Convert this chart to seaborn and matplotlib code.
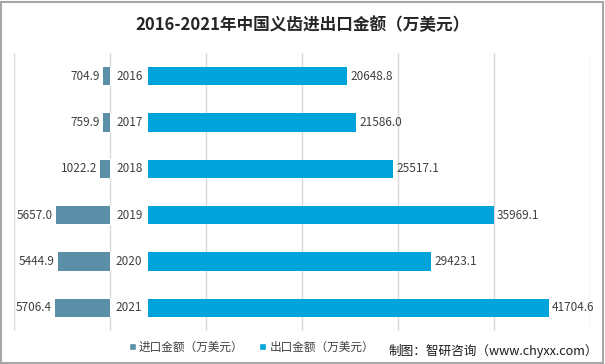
import matplotlib
matplotlib.use('Agg')
import matplotlib.pyplot as plt
import seaborn as sns
import pandas as pd
from matplotlib.patches import Rectangle, Patch

years = ['2016', '2017', '2018', '2019', '2020', '2021']
imports = [704.9, 759.9, 1022.2, 5657.0, 5444.9, 5706.4]
exports = [20648.8, 21586.0, 25517.1, 35969.1, 29423.1, 41704.6]
spacer = 4000  # invisible gap holding the year labels

title = '2016-2021年中国义齿进出口金额（万美元）'
import_label = '进口金额（万美元）'
export_label = '出口金额（万美元）'
source = '制图：智研咨询（www.chyxx.com）'

imp_color = '#5b8fa8'
exp_color = '#00a3da'
txt_color = '#404040'

df = pd.DataFrame({'year': years, 'imp': imports, 'exp': exports})
df['imp_neg'] = -df['imp']
df['spacer'] = spacer
df['total'] = df['exp'] + spacer

sns.set_theme(style='white')
plt.rcParams['font.family'] = ['Noto Sans CJK SC', 'DejaVu Sans']

fig = plt.figure(figsize=(6.05, 3.64), dpi=100)
fig.patch.set_facecolor('white')
ax = fig.add_axes([14 / 605, 33 / 364, 576 / 605, 278 / 364])
ax.set_facecolor('white')

sns.barplot(data=df, x='imp_neg', y='year', color=imp_color, saturation=1,
            width=0.39, ax=ax, linewidth=0)
sns.barplot(data=df, x='total', y='year', color=exp_color, saturation=1,
            width=0.39, ax=ax, linewidth=0)
sns.barplot(data=df, x='spacer', y='year', color='white', saturation=1,
            width=0.41, ax=ax, linewidth=0)

ax.set_xlim(-10000, 50000)
ax.set_xticks(range(-10000, 50001, 10000))
ax.set_xticklabels([])
ax.set_yticks([])
ax.set_ylim(5.5, -0.5)
ax.xaxis.grid(True, color='#d9d9d9', lw=1)
ax.yaxis.grid(False)
ax.set_axisbelow(True)
ax.tick_params(length=0)
ax.set_xlabel('')
ax.set_ylabel('')
for s in ax.spines.values():
    s.set_visible(False)

for i, (y, imp, exp) in enumerate(zip(years, imports, exports)):
    ax.text(-imp - 350, i, f'{imp:.1f}', ha='right', va='center',
            fontsize=8.5, color=txt_color)
    ax.text(spacer / 2, i, y, ha='center', va='center',
            fontsize=8.5, color=txt_color)
    ax.text(spacer + exp + 350, i, f'{exp:.1f}', ha='left', va='center',
            fontsize=8.5, color=txt_color)

handles = [Patch(facecolor=imp_color, label=import_label),
           Patch(facecolor=exp_color, label=export_label)]
leg = ax.legend(handles=handles, ncol=2, frameon=False, loc='center left',
                bbox_to_anchor=(118 / 605, 17 / 364), bbox_transform=fig.transFigure,
                handlelength=0.6, handleheight=0.6, handletextpad=0.3,
                columnspacing=1.3, fontsize=8.4)
for t in leg.get_texts():
    t.set_color(txt_color)

fig.text(0.5, (364 - 25) / 364, title, ha='center', va='center',
         fontsize=12, fontweight='bold', color='#262626')
fig.text(388 / 605, (364 - 351) / 364, source, ha='left', va='center',
         fontsize=9.1, color='#1a1a1a')

fig.patches.append(Rectangle((1 / 605, 1.5 / 364), 602 / 605, 361 / 364,
                             transform=fig.transFigure, fill=False,
                             ec='#a6a6a6', lw=1.5))

fig.savefig('out.png', dpi=100)
